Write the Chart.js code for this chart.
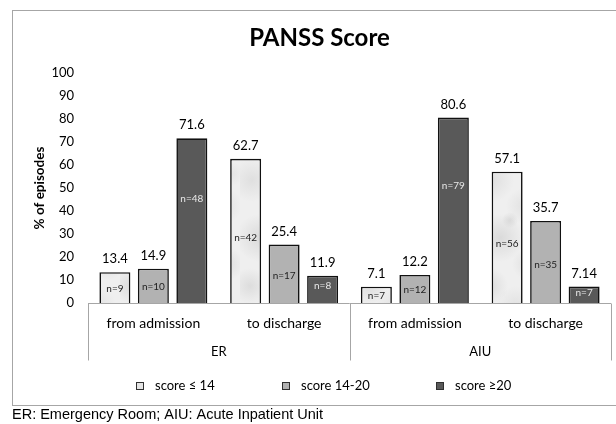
<!DOCTYPE html>
<html>
<head>
<meta charset="utf-8">
<script src="https://cdn.jsdelivr.net/npm/chart.js@4.4.1/dist/chart.umd.min.js"></script>
<style>
  html, body { margin: 0; padding: 0; background: #fff; }
  #wrap { position: relative; width: 616px; height: 424px; }
</style>
</head>
<body>
<div id="wrap"><canvas id="myChart" width="616" height="424"></canvas></div>
<script>
// data
const categories = ['from admission', 'to discharge', 'from admission', 'to discharge'];
const groups = ['ER', 'AIU'];
const seriesNames = ['score \u2264 14', 'score 14-20', 'score \u226520'];
const lowScore = [13.4, 62.7, 7.1, 57.1];
const midScore = [14.9, 25.4, 12.2, 35.7];
const highScore = [71.6, 11.9, 80.6, 7.14];
const lowN = [9, 42, 7, 56];
const midN = [10, 17, 12, 35];
const highN = [48, 8, 79, 7];
const yTicks = [0, 10, 20, 30, 40, 50, 60, 70, 80, 90, 100];

const FONT = 'Lato';

// light grey "marble" fill for the lowest score bars
function marblePattern() {
    const c = document.createElement('canvas');
    c.width = 60; c.height = 160;
    const g = c.getContext('2d');
    g.fillStyle = '#efefef';
    g.fillRect(0, 0, c.width, c.height);
    const spots = [
        [12, 20, 22, 0.12], [44, 46, 18, 0.10], [20, 78, 24, 0.16],
        [48, 104, 16, 0.12], [10, 126, 18, 0.14], [36, 146, 20, 0.10],
        [30, 60, 8, 0.14], [52, 14, 12, 0.08]
    ];
    spots.forEach(function (s) {
        const grd = g.createRadialGradient(s[0], s[1], 0, s[0], s[1], s[2]);
        grd.addColorStop(0, 'rgba(110,110,110,' + s[3] + ')');
        grd.addColorStop(1, 'rgba(110,110,110,0)');
        g.fillStyle = grd;
        g.fillRect(0, 0, c.width, c.height);
    });
    return g.createPattern(c, 'repeat');
}

const ctx = document.getElementById('myChart').getContext('2d');

const extras = {
    id: 'extras',
    beforeDraw(chart) {
        const c = chart.ctx;
        c.save();
        c.fillStyle = '#fff';
        c.fillRect(0, 0, chart.width, chart.height);
        c.strokeStyle = '#a6a6a6';
        c.lineWidth = 1;
        c.strokeRect(12.5, 10.5, 640, 395);
        c.restore();
    },
    afterDatasetsDraw(chart) {
        const c = chart.ctx;
        const area = chart.chartArea;
        const xs = chart.scales.x;
        c.save();

        // title
        c.fillStyle = '#000';
        c.font = 'bold 24px ' + FONT;
        c.textAlign = 'center';
        c.textBaseline = 'alphabetic';
        c.fillText('PANSS Score', 319.5, 46);

        // category axis with two levels
        const yb = Math.round(area.bottom) + 0.5;
        c.strokeStyle = '#a6a6a6';
        c.lineWidth = 1;
        c.beginPath();
        c.moveTo(area.left, yb);
        c.lineTo(area.right, yb);
        const mid = (area.left + area.right) / 2;
        [area.left, mid, area.right].forEach(function (x) {
            const xx = Math.round(x) + 0.5;
            c.moveTo(xx, yb);
            c.lineTo(xx, yb + 57);
        });
        c.stroke();

        c.fillStyle = '#000';
        c.textBaseline = 'middle';
        c.font = '14px ' + FONT;
        categories.forEach(function (lab, i) {
            c.fillText(lab, xs.getPixelForValue(i), yb + 20);
        });
        c.font = '13px ' + FONT;
        groups.forEach(function (g, i) {
            const x0 = i === 0 ? area.left : mid;
            const x1 = i === 0 ? mid : area.right;
            c.fillText(g, (x0 + x1) / 2, yb + 48);
        });

        // value labels and n labels
        const nLists = [lowN, midN, highN];
        chart.data.datasets.forEach(function (ds, di) {
            const meta = chart.getDatasetMeta(di);
            meta.data.forEach(function (bar, i) {
                c.fillStyle = '#000';
                c.font = '13px ' + FONT;
                c.textBaseline = 'alphabetic';
                c.fillText(String(ds.data[i]), bar.x, bar.y - 9);

                const frac = ds.nLabelPos;
                const ny = bar.base - (bar.base - bar.y) * frac;
                c.fillStyle = ds.nLabelColor;
                c.font = '10px ' + FONT;
                c.textBaseline = 'middle';
                c.fillText('n=' + nLists[di][i], bar.x, ny);
            });
        });

        // legend
        c.font = '13px ' + FONT;
        const box = 8, gapText = 11, gapItem = 67;
        const widths = chart.data.datasets.map(function (ds) {
            return box + gapText + c.measureText(ds.label).width;
        });
        const total = widths.reduce(function (a, b) { return a + b; }, 0) + gapItem * (widths.length - 1);
        let lx = Math.round(324 - total / 2);
        const ly = 386;
        chart.data.datasets.forEach(function (ds, di) {
            const bx = Math.round(lx);
            c.fillStyle = ds.legendColor;
            c.fillRect(bx, ly - box / 2, box, box);
            c.strokeStyle = '#303030';
            c.lineWidth = 1;
            c.strokeRect(bx + 0.5, ly - box / 2 + 0.5, box - 1, box - 1);
            c.fillStyle = '#000';
            c.textAlign = 'left';
            c.textBaseline = 'middle';
            c.fillText(ds.label, bx + box + gapText, ly);
            lx += widths[di] + gapItem;
        });

        // footnote
        c.font = '14.5px "Liberation Sans"';
        c.textAlign = 'left';
        c.textBaseline = 'alphabetic';
        c.fillText('ER: Emergency Room; AIU: Acute Inpatient Unit', 12, 419);

        c.restore();
    }
};

const myChart = new Chart(ctx, {
    type: 'bar',
    data: {
        labels: categories,
        datasets: [{
            label: seriesNames[0],
            data: lowScore,
            backgroundColor: marblePattern(),
            legendColor: '#e4e4e4',
            nLabelColor: '#222',
            nLabelPos: 0.45,
            borderColor: '#111',
            borderWidth: 1.6
        }, {
            label: seriesNames[1],
            data: midScore,
            backgroundColor: '#b2b2b2',
            legendColor: '#b2b2b2',
            nLabelColor: '#222',
            nLabelPos: 0.46,
            borderColor: '#111',
            borderWidth: 1.6
        }, {
            label: seriesNames[2],
            data: highScore,
            backgroundColor: '#595959',
            legendColor: '#595959',
            nLabelColor: '#e8e8e8',
            nLabelPos: 0.63,
            borderColor: '#111',
            borderWidth: 1.6
        }]
    },
    options: {
        responsive: false,
        animation: false,
        layout: { padding: { top: 73, right: 5, bottom: 121, left: 0 } },
        datasets: {
            bar: { categoryPercentage: 0.883, barPercentage: 0.805 }
        },
        plugins: {
            legend: { display: false },
            tooltip: { enabled: false },
            title: { display: false }
        },
        scales: {
            x: { display: false },
            y: {
                min: 0,
                max: 100,
                afterBuildTicks(scale) {
                    scale.ticks = yTicks.map(function (v) { return { value: v }; });
                },
                afterFit(scale) { scale.width = 88; },
                ticks: { padding: 14, color: '#000', font: { family: FONT, size: 13 } },
                grid: { display: false, drawTicks: false },
                border: { display: false },
                title: {
                    display: true,
                    text: '% of episodes',
                    color: '#000',
                    font: { family: FONT, size: 13.5, weight: 'bold' },
                    padding: { top: 32, bottom: 0 }
                }
            }
        }
    },
    plugins: [extras]
});
</script>
</body>
</html>
